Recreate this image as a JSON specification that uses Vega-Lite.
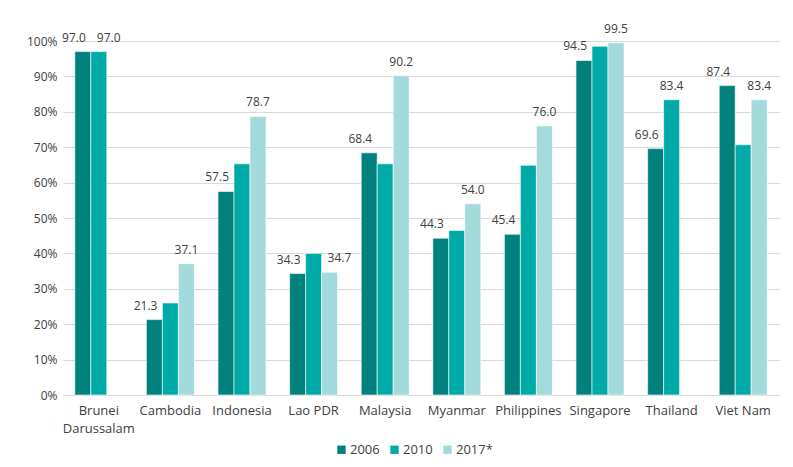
{
  "$schema": "https://vega.github.io/schema/vega-lite/v6.json",
  "width": 716,
  "height": 354,
  "autosize": "none",
  "padding": {"left": 63, "top": 41, "right": 14, "bottom": 72},
  "background": "white",
  "config": {
    "font": "Open Sans",
    "view": {"stroke": null},
    "axis": {"labelFont": "Open Sans", "labelFontSize": 12, "labelColor": "#404040"},
    "legend": {"labelFont": "Open Sans", "labelFontSize": 13, "labelColor": "#404040"}
  },
  "data": {
    "values": [
      {"country": "Brunei Darussalam", "year": "2006", "value": 97.0, "labeled": true},
      {"country": "Brunei Darussalam", "year": "2010", "value": 97.0, "labeled": true},
      {"country": "Cambodia", "year": "2006", "value": 21.3, "labeled": true},
      {"country": "Cambodia", "year": "2010", "value": 26.0, "labeled": false},
      {"country": "Cambodia", "year": "2017*", "value": 37.1, "labeled": true},
      {"country": "Indonesia", "year": "2006", "value": 57.5, "labeled": true},
      {"country": "Indonesia", "year": "2010", "value": 65.3, "labeled": false},
      {"country": "Indonesia", "year": "2017*", "value": 78.7, "labeled": true},
      {"country": "Lao PDR", "year": "2006", "value": 34.3, "labeled": true},
      {"country": "Lao PDR", "year": "2010", "value": 40.0, "labeled": false},
      {"country": "Lao PDR", "year": "2017*", "value": 34.7, "labeled": true},
      {"country": "Malaysia", "year": "2006", "value": 68.4, "labeled": true},
      {"country": "Malaysia", "year": "2010", "value": 65.3, "labeled": false},
      {"country": "Malaysia", "year": "2017*", "value": 90.2, "labeled": true},
      {"country": "Myanmar", "year": "2006", "value": 44.3, "labeled": true},
      {"country": "Myanmar", "year": "2010", "value": 46.5, "labeled": false},
      {"country": "Myanmar", "year": "2017*", "value": 54.0, "labeled": true},
      {"country": "Philippines", "year": "2006", "value": 45.4, "labeled": true},
      {"country": "Philippines", "year": "2010", "value": 64.9, "labeled": false},
      {"country": "Philippines", "year": "2017*", "value": 76.0, "labeled": true},
      {"country": "Singapore", "year": "2006", "value": 94.5, "labeled": true},
      {"country": "Singapore", "year": "2010", "value": 98.5, "labeled": false},
      {"country": "Singapore", "year": "2017*", "value": 99.5, "labeled": true},
      {"country": "Thailand", "year": "2006", "value": 69.6, "labeled": true},
      {"country": "Thailand", "year": "2010", "value": 83.4, "labeled": true},
      {"country": "Viet Nam", "year": "2006", "value": 87.4, "labeled": true},
      {"country": "Viet Nam", "year": "2010", "value": 70.7, "labeled": false},
      {"country": "Viet Nam", "year": "2017*", "value": 83.4, "labeled": true}
    ]
  },
  "encoding": {
    "x": {
      "field": "country", "type": "nominal", "sort": null,
      "scale": {"paddingInner": 0.33, "paddingOuter": 0.165},
      "axis": {
        "title": null, "labelAngle": 0, "ticks": false, "domain": false,
        "labelPadding": 9, "labelBaseline": "top", "labelLineHeight": 18, "labelFontSize": 13,
        "labelExpr": "datum.label == 'Brunei Darussalam' ? ['Brunei', 'Darussalam'] : datum.label"
      }
    },
    "xOffset": {
      "field": "year", "type": "nominal", "sort": ["2006", "2010", "2017*"],
      "scale": {"domain": ["2006", "2010", "2017*"], "paddingInner": 0, "paddingOuter": 0}
    },
    "y": {
      "field": "value", "type": "quantitative",
      "scale": {"domain": [0, 100], "nice": false},
      "axis": {
        "title": null, "values": [0, 10, 20, 30, 40, 50, 60, 70, 80, 90, 100],
        "labelExpr": "datum.value + '%'", "ticks": false, "domain": false,
        "labelPadding": 6, "gridColor": "#d9d9d9", "gridWidth": 1
      }
    }
  },
  "layer": [
    {
      "mark": {"type": "bar", "stroke": "white", "strokeWidth": 0.6},
      "encoding": {
        "color": {
          "field": "year", "type": "nominal",
          "scale": {"domain": ["2006", "2010", "2017*"], "range": ["#00817e", "#00aaa6", "#a3dadc"]},
          "legend": {
            "title": null, "orient": "none", "legendX": 272, "legendY": 402, "direction": "horizontal",
            "symbolType": "square", "symbolSize": 70, "symbolStrokeWidth": 0,
            "labelOffset": 2, "columnPadding": 8
          }
        }
      }
    },
    {
      "transform": [{"filter": "datum.labeled && datum.year == '2006'"}],
      "mark": {"type": "text", "align": "right", "baseline": "alphabetic", "dx": 3, "dy": -10, "fontSize": 12, "color": "#404040"},
      "encoding": {"text": {"field": "value", "type": "quantitative", "format": ".1f"}}
    },
    {
      "transform": [{"filter": "datum.labeled && datum.year != '2006' && !((datum.country == 'Brunei Darussalam' && datum.year == '2010') || (datum.country == 'Lao PDR' && datum.year == '2017*'))"}],
      "mark": {"type": "text", "align": "center", "baseline": "alphabetic", "dy": -10, "fontSize": 12, "color": "#404040"},
      "encoding": {"text": {"field": "value", "type": "quantitative", "format": ".1f"}}
    },
    {
      "transform": [{"filter": "(datum.country == 'Brunei Darussalam' && datum.year == '2010') || (datum.country == 'Lao PDR' && datum.year == '2017*')"}],
      "mark": {"type": "text", "align": "left", "baseline": "alphabetic", "dx": -2, "dy": -10, "fontSize": 12, "color": "#404040"},
      "encoding": {"text": {"field": "value", "type": "quantitative", "format": ".1f"}}
    }
  ]
}
